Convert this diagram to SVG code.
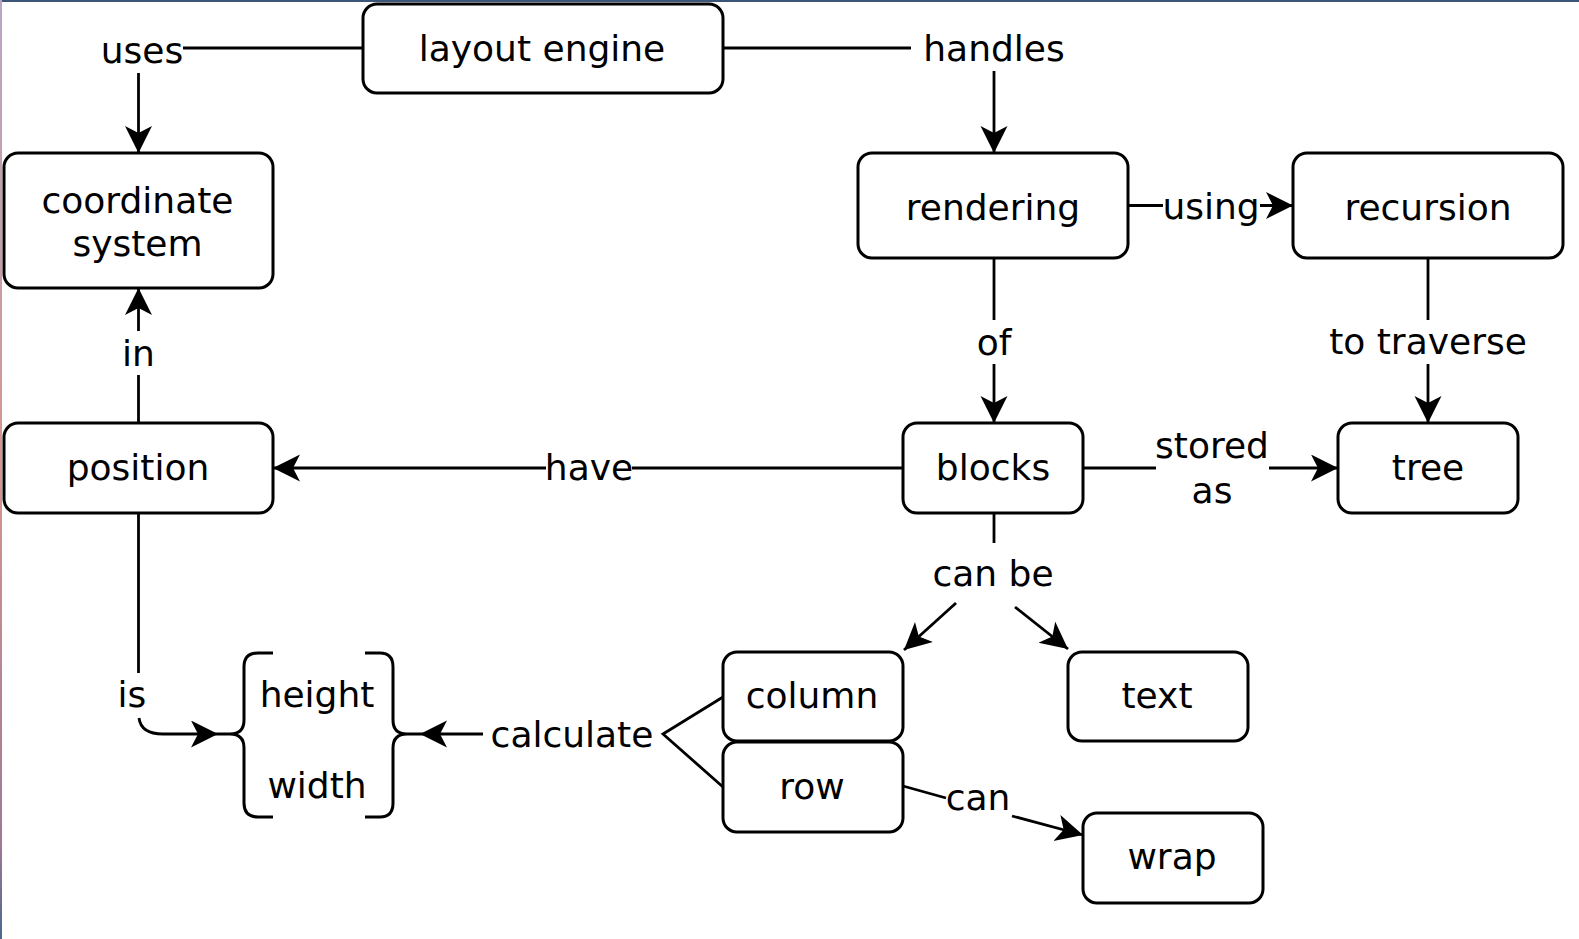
<svg xmlns="http://www.w3.org/2000/svg" width="1579" height="939" viewBox="0 0 1579 939">
<defs>
<linearGradient id="lb" x1="0" y1="0" x2="0" y2="1">
<stop offset="0" stop-color="#b9a6c4"/>
<stop offset="0.5" stop-color="#d4968f"/>
<stop offset="0.9" stop-color="#a07896"/>
<stop offset="1" stop-color="#4a6890"/>
</linearGradient>
<marker id="ah" markerUnits="userSpaceOnUse" markerWidth="30" markerHeight="30" refX="27" refY="13.5" orient="auto" viewBox="0 0 30 30">
<path d="M0,0 L27,13.5 L0,27 L7,13.5 Z" fill="#000"/>
</marker>
</defs>
<style>
.n rect{fill:#fff;stroke:#000;stroke-width:3}
text{font-family:"DejaVu Sans","Liberation Sans",sans-serif;font-size:36px;fill:#000;text-anchor:middle;dominant-baseline:central}
.c path,.c line{fill:none;stroke:#000;stroke-width:2.8}
.a{marker-end:url(#ah)}
.br{fill:none;stroke:#000;stroke-width:3}
</style>
<rect x="0" y="0" width="1579" height="939" fill="#fff"/>
<rect x="0" y="0" width="1579" height="2" fill="#3d5677"/>
<rect x="0" y="0" width="2" height="939" fill="url(#lb)"/>

<g id="connectors" class="c">
<line x1="363" y1="48" x2="183" y2="48"/>
<line class="a" x1="138.5" y1="73" x2="138.5" y2="153"/>
<line x1="723" y1="48" x2="911" y2="48"/>
<line class="a" x1="994" y1="71" x2="994" y2="153"/>
<line x1="1128" y1="205.5" x2="1163" y2="205.5"/>
<line class="a" x1="1260" y1="205.5" x2="1293" y2="205.5"/>
<line x1="994" y1="258" x2="994" y2="320"/>
<line class="a" x1="994" y1="364" x2="994" y2="423"/>
<line x1="1428" y1="258" x2="1428" y2="320"/>
<line class="a" x1="1428" y1="364" x2="1428" y2="423"/>
<line x1="1083" y1="468" x2="1156" y2="468"/>
<line class="a" x1="1269" y1="468" x2="1338" y2="468"/>
<line x1="903" y1="468" x2="632" y2="468"/>
<line class="a" x1="546" y1="468" x2="273" y2="468"/>
<line x1="138.5" y1="423" x2="138.5" y2="375"/>
<line class="a" x1="138.5" y1="331" x2="138.5" y2="288"/>
<line x1="994" y1="513" x2="994" y2="543"/>
<line class="a" x1="956" y1="603" x2="904" y2="650"/>
<line class="a" x1="1015" y1="607" x2="1068" y2="649"/>
<line x1="138.5" y1="513" x2="138.5" y2="673"/>
<path class="a" d="M139,718 Q141,734 163,734 L218,734"/>
<line x1="903" y1="786" x2="946" y2="798"/>
<line class="a" x1="1012" y1="816" x2="1083" y2="835"/>
<line class="a" x1="483" y1="734" x2="420" y2="734"/>
<path d="M723,697 L663,734 L723,787"/>
</g>

<g id="labels">
<text x="142" y="50">uses</text>
<text x="994" y="48">handles</text>
<text x="1211" y="206.5">using</text>
<text x="994" y="342">of</text>
<text x="1428" y="341.5">to traverse</text>
<text x="1212" y="445.5">stored</text>
<text x="1212" y="490">as</text>
<text x="589" y="467">have</text>
<text x="138.5" y="353.5">in</text>
<text x="993" y="573">can be</text>
<text x="132" y="694">is</text>
<text x="978" y="797.5">can</text>
<text x="572" y="734">calculate</text>
</g>

<g id="n-layout-engine" class="n"><rect x="363" y="4" width="360" height="89" rx="14"/><text x="542" y="48.5">layout engine</text></g>
<g id="n-coordinate-system" class="n"><rect x="4" y="153" width="269" height="135" rx="14"/><text x="137.5" y="200.5">coordinate</text><text x="137.5" y="243.5">system</text></g>
<g id="n-rendering" class="n"><rect x="858" y="153" width="270" height="105" rx="14"/><text x="993" y="207">rendering</text></g>
<g id="n-recursion" class="n"><rect x="1293" y="153" width="270" height="105" rx="14"/><text x="1428" y="207">recursion</text></g>
<g id="n-position" class="n"><rect x="4" y="423" width="269" height="90" rx="14"/><text x="138" y="467.5">position</text></g>
<g id="n-blocks" class="n"><rect x="903" y="423" width="180" height="90" rx="14"/><text x="993" y="467.5">blocks</text></g>
<g id="n-tree" class="n"><rect x="1338" y="423" width="180" height="90" rx="14"/><text x="1428" y="467.5">tree</text></g>
<g id="n-column" class="n"><rect x="723" y="652" width="180" height="89" rx="14"/><text x="812" y="695.5">column</text></g>
<g id="n-row" class="n"><rect x="723" y="742" width="180" height="90" rx="14"/><text x="812" y="786">row</text></g>
<g id="n-text" class="n"><rect x="1068" y="652" width="180" height="89" rx="14"/><text x="1157" y="695.5">text</text></g>
<g id="n-wrap" class="n"><rect x="1083" y="813" width="180" height="90" rx="14"/><text x="1172" y="856">wrap</text></g>
<g id="n-height-width">
<path class="br" d="M273,653 L258,653 Q244,653 244,667 L244,720 Q244,734 230,734 L218,734 M230,734 Q244,734 244,748 L244,803 Q244,817 258,817 L273,817"/>
<path class="br" d="M365,653 L380,653 Q393,653 393,667 L393,720 Q393,734 407,734 L420,734 M407,734 Q393,734 393,748 L393,803 Q393,817 380,817 L365,817"/>
<text x="317" y="694">height</text>
<text x="317" y="785.5">width</text>
</g>
</svg>
